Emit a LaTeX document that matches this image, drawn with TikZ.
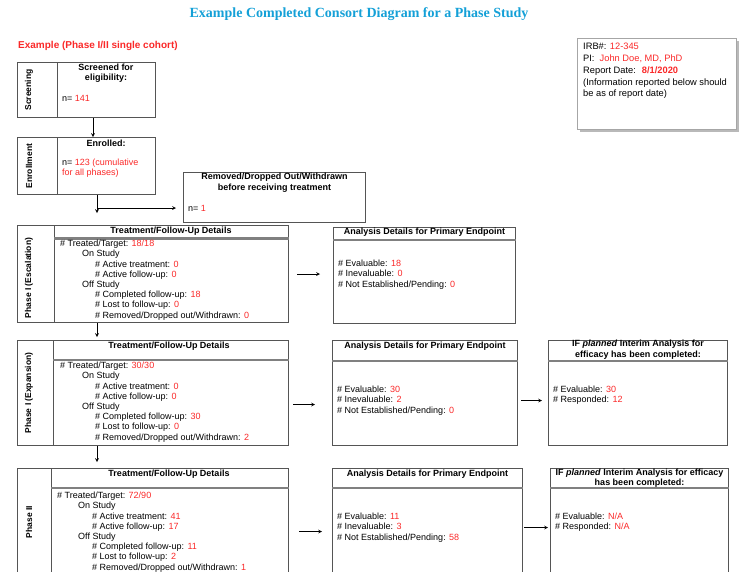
\documentclass[tikz,border=0pt]{standalone}
\usepackage{fontspec}
\setmainfont{Liberation Sans}
\newfontfamily\titlefont{Liberation Serif}
\usetikzlibrary{calc}
\definecolor{consred}{RGB}{250,40,40}
\definecolor{conscyan}{RGB}{20,160,215}
\definecolor{boxgray}{RGB}{85,85,85}
\newcommand{\rd}[1]{\textcolor{consred}{#1}}

\begin{document}
\begin{tikzpicture}[>=stealth, x=1pt, y=-1pt,
  box/.style={draw=boxgray, line width=1pt, anchor=north west, inner sep=0pt},
  hline/.style={draw=boxgray!75, line width=2.2pt},
  vline/.style={draw=boxgray, line width=1pt},
  arr/.style={->, line width=0.7pt},
  lbl/.style={rotate=90, inner sep=0pt, font=\fontsize{8.5}{10}\selectfont\bfseries},
  hd/.style={font=\fontsize{9}{10.4}\selectfont\bfseries, align=center, inner sep=0pt},
  body/.style={font=\fontsize{9}{10.2}\selectfont, align=left, anchor=north west, inner sep=0pt}]
\clip (0,0) rectangle (741,571);

\node[font=\titlefont\fontsize{14}{16}\selectfont\bfseries, text=conscyan] (title) at (359,14) {Example Completed Consort Diagram for a Phase Study};
\node[font=\fontsize{10}{12}\selectfont\bfseries, text=consred, anchor=west, inner sep=0pt] (example) at (18,46) {Example (Phase I/II single cohort)};

\node[box, minimum width=138, minimum height=55] (scr) at (17,62) {};
\draw[vline] ($(scr.north west)+(40,0)$) -- ($(scr.south west)+(40,0)$);
\node[lbl] at ($(scr.west)+(12,0)$) {Screening};
\node[hd] at ($(scr.north west)+(89,11)$) {Screened for\\eligibility:};
\node[body, anchor=west] at ($(scr.north west)+(45,36)$) {n= \rd{141}};

\node[box, minimum width=138, minimum height=57] (enr) at (17,137) {};
\draw[vline] ($(enr.north west)+(40,0)$) -- ($(enr.south west)+(40,0)$);
\node[lbl] at ($(enr.west)+(12,0)$) {Enrollment};
\node[hd] at ($(enr.north west)+(89,6)$) {Enrolled:};
\node[body] at ($(enr.north west)+(45,22)$) {n= \rd{123 (cumulative}\\\rd{for all phases)}};

\node[box, minimum width=182, minimum height=50] (rem) at (183,172) {};
\node[hd] at ($(rem.north)+(0,10.5)$) {Removed/Dropped Out/Withdrawn\\before receiving treatment};
\node[body, anchor=west] at ($(rem.north west)+(5,36)$) {n= \rd{1}};

\node[box, draw=gray!70, line width=0.7pt, minimum width=159, minimum height=91] (irb) at (577,38) {};
\draw[gray!55, line width=1.6pt] ($(irb.north east)+(1,3)$) -- ($(irb.south east)+(1,1)$) -- ($(irb.south west)+(3,1)$);
\node[body, font=\fontsize{9.3}{11.8}\selectfont] at ($(irb.north west)+(6,5)$) {IRB\#: \rd{12-345}\\PI: \ \rd{John Doe, MD, PhD}\\Report Date: \ \rd{\bfseries 8/1/2020}\\(Information reported below should\\be as of report date)};

\node[box, minimum width=271, minimum height=97] (esc) at (17,225) {};
\draw[vline] ($(esc.north west)+(37,0)$) -- ($(esc.south west)+(37,0)$);
\draw[hline] ($(esc.north west)+(37,13.5)$) -- ($(esc.north east)+(0,13.5)$);
\node[lbl] at ($(esc.west)+(12,4)$) {Phase I (Escalation)};
\node[hd] at ($(esc.north west)+(154,6)$) {Treatment/Follow-Up Details};
\node[body] at ($(esc.north west)+(43,15)$) {\# Treated/Target: \rd{18/18}\\
\hspace*{22pt}On Study\\
\hspace*{35pt}\# Active treatment: \rd{0}\\
\hspace*{35pt}\# Active follow-up: \rd{0}\\
\hspace*{22pt}Off Study\\
\hspace*{35pt}\# Completed follow-up: \rd{18}\\
\hspace*{35pt}\# Lost to follow-up: \rd{0}\\
\hspace*{35pt}\# Removed/Dropped out/Withdrawn: \rd{0}};

\node[box, minimum width=182, minimum height=96] (an1) at (333,227) {};
\draw[hline] ($(an1.north west)+(0,13)$) -- ($(an1.north east)+(0,13)$);
\node[hd] at ($(an1.north)+(0,5.5)$) {Analysis Details for Primary Endpoint};
\node[body] at ($(an1.north west)+(5,33)$) {\# Evaluable: \rd{18}\\\# Inevaluable: \rd{0}\\\# Not Established/Pending: \rd{0}};

\node[box, minimum width=271, minimum height=105] (exa) at (17,340) {};
\draw[vline] ($(exa.north west)+(36,0)$) -- ($(exa.south west)+(36,0)$);
\draw[hline] ($(exa.north west)+(36,20)$) -- ($(exa.north east)+(0,20)$);
\node[lbl] at ($(exa.west)+(12,0)$) {Phase I (Expansion)};
\node[hd] at ($(exa.north west)+(152,6)$) {Treatment/Follow-Up Details};
\node[body] at ($(exa.north west)+(43,22)$) {\# Treated/Target: \rd{30/30}\\
\hspace*{22pt}On Study\\
\hspace*{35pt}\# Active treatment: \rd{0}\\
\hspace*{35pt}\# Active follow-up: \rd{0}\\
\hspace*{22pt}Off Study\\
\hspace*{35pt}\# Completed follow-up: \rd{30}\\
\hspace*{35pt}\# Lost to follow-up: \rd{0}\\
\hspace*{35pt}\# Removed/Dropped out/Withdrawn: \rd{2}};

\node[box, minimum width=185, minimum height=105] (an2) at (332,340) {};
\draw[hline] ($(an2.north west)+(0,21)$) -- ($(an2.north east)+(0,21)$);
\node[hd] at ($(an2.north)+(0,6)$) {Analysis Details for Primary Endpoint};
\node[body] at ($(an2.north west)+(5,46)$) {\# Evaluable: \rd{30}\\\# Inevaluable: \rd{2}\\\# Not Established/Pending: \rd{0}};

\node[box, minimum width=179, minimum height=105] (int2) at (548,340) {};
\draw[hline] ($(int2.north west)+(0,21)$) -- ($(int2.north east)+(0,21)$);
\node[hd] at ($(int2.north)+(0,9.5)$) {IF \emph{planned} Interim Analysis for\\efficacy has been completed:};
\node[body] at ($(int2.north west)+(5,46)$) {\# Evaluable: \rd{30}\\\# Responded: \rd{12}};

\node[box, minimum width=271, minimum height=122] (ph2) at (17,468) {};
\draw[vline] ($(ph2.north west)+(34,0)$) -- ($(ph2.south west)+(34,0)$);
\draw[hline] ($(ph2.north west)+(34,20)$) -- ($(ph2.north east)+(0,20)$);
\node[lbl] at ($(ph2.north west)+(12,54)$) {Phase II};
\node[hd] at ($(ph2.north west)+(152,6)$) {Treatment/Follow-Up Details};
\node[body] at ($(ph2.north west)+(40,24)$) {\# Treated/Target: \rd{72/90}\\
\hspace*{21pt}On Study\\
\hspace*{35pt}\# Active treatment: \rd{41}\\
\hspace*{35pt}\# Active follow-up: \rd{17}\\
\hspace*{21pt}Off Study\\
\hspace*{35pt}\# Completed follow-up: \rd{11}\\
\hspace*{35pt}\# Lost to follow-up: \rd{2}\\
\hspace*{35pt}\# Removed/Dropped out/Withdrawn: \rd{1}};

\node[box, minimum width=190, minimum height=122] (an3) at (332,468) {};
\draw[hline] ($(an3.north west)+(0,20)$) -- ($(an3.north east)+(0,20)$);
\node[hd] at ($(an3.north)+(0,6)$) {Analysis Details for Primary Endpoint};
\node[body] at ($(an3.north west)+(5,45)$) {\# Evaluable: \rd{11}\\\# Inevaluable: \rd{3}\\\# Not Established/Pending: \rd{58}};

\node[box, minimum width=178, minimum height=122] (int3) at (550,468) {};
\draw[hline] ($(int3.north west)+(0,20)$) -- ($(int3.north east)+(0,20)$);
\node[hd] at ($(int3.north)+(0,10)$) {IF \emph{planned} Interim Analysis for efficacy\\has been completed:};
\node[body] at ($(int3.north west)+(5,45)$) {\# Evaluable: \rd{N/A}\\\# Responded: \rd{N/A}};

\draw[arr] ($(scr.south west)+(76,0)$) -- ($(enr.north west)+(76,0)$);
\coordinate (br) at ($(enr.south west)+(80,13)$);
\draw[arr] ($(enr.south west)+(80,0)$) -- ($(esc.north west)+(80,-12)$);
\draw[arr, shorten >=7pt] (br) -- (rem.west |- br);
\draw[arr] ($(esc.south west)+(80,0)$) -- ($(exa.north west)+(80,-3)$);
\draw[arr] ($(exa.south west)+(80,0)$) -- ($(ph2.north west)+(80,-6)$);
\draw[arr, shorten <=8pt, shorten >=13pt] (esc.east) -- (an1.west |- esc.east);
\draw[arr, shorten <=4pt, shorten >=17pt] ([yshift=-11.5pt]exa.east) -- ([yshift=-11.5pt]an2.west);
\draw[arr, shorten <=3pt, shorten >=6pt] ([yshift=-7.5pt]an2.east) -- ([yshift=-7.5pt]int2.west);
\draw[arr, shorten <=10pt, shorten >=10pt] ([yshift=-2pt]ph2.east) -- ([yshift=-2pt]an3.west);
\draw[arr, shorten <=1pt, shorten >=2pt] ([yshift=2pt]an3.east) -- ([yshift=2pt]int3.west);
\end{tikzpicture}
\end{document}
